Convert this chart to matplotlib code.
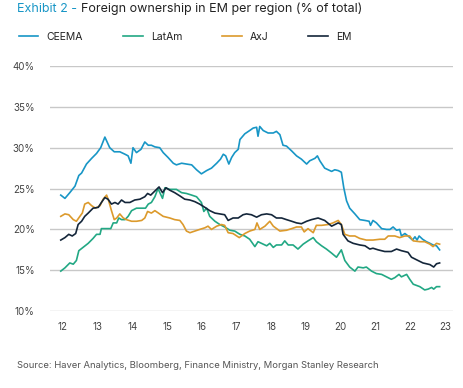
import matplotlib.pyplot as plt

# data (year = 2000 + x)
ceema_t = [11.94, 12.06, 12.20, 12.35, 12.46, 12.54, 12.68, 12.83, 12.97, 13.09,
           13.21, 13.35, 13.48, 13.64, 13.79, 13.88, 13.96, 14.02, 14.12, 14.25,
           14.36, 14.46, 14.55, 14.65, 14.79, 14.89, 15.03, 15.18, 15.27, 15.42,
           15.56, 15.71, 15.85, 15.99, 16.14, 16.28, 16.43, 16.54, 16.62, 16.69,
           16.78, 16.86, 16.95, 17.05, 17.10, 17.24, 17.38, 17.48, 17.58, 17.62,
           17.67, 17.77, 17.91, 18.06, 18.15, 18.25, 18.34, 18.44, 18.59, 18.73,
           18.87, 19.02, 19.11, 19.26, 19.33, 19.40, 19.54, 19.64, 19.74, 19.83,
           19.93, 20.02, 20.09, 20.17, 20.26, 20.41, 20.55, 20.70, 20.82, 20.86,
           20.93, 21.03, 21.18, 21.32, 21.42, 21.51, 21.61, 21.70, 21.75, 21.85,
           21.94, 22.07, 22.14, 22.20, 22.26, 22.36, 22.47, 22.57, 22.66, 22.76,
           22.85]
ceema = [24.2, 23.8, 24.5, 25.3, 26.6, 26.9, 28.0, 28.7, 29.3, 30.0,
         31.3, 30.0, 29.5, 29.5, 29.2, 29.0, 28.1, 30.0, 29.4, 29.8,
         30.7, 30.3, 30.3, 30.1, 30.0, 29.4, 28.8, 28.1, 27.9, 28.1,
         28.0, 27.9, 27.3, 26.8, 27.2, 27.5, 28.1, 28.6, 29.2, 29.0,
         28.0, 28.8, 29.4, 29.8, 31.0, 31.7, 32.1, 32.4, 32.5, 31.4,
         32.6, 32.1, 31.8, 31.8, 32.0, 31.6, 30.3, 30.2, 29.6, 29.0,
         28.6, 28.0, 28.4, 28.7, 29.0, 28.4, 27.5, 27.3, 27.1, 27.3,
         27.2, 27.0, 25.1, 23.5, 22.6, 21.9, 21.2, 21.1, 21.0, 20.5,
         21.1, 20.8, 20.1, 20.0, 20.0, 20.3, 19.9, 20.0, 19.2, 19.5,
         19.2, 18.7, 19.1, 18.7, 19.2, 18.8, 18.5, 18.3, 18.1, 18.0,
         17.5]

latam_t = [11.94, 12.06, 12.20, 12.30, 12.39, 12.46, 12.58, 12.73, 12.87, 12.97,
           13.07, 13.11, 13.26, 13.38, 13.45, 13.55, 13.61, 13.69, 13.79, 13.88,
           13.98, 14.12, 14.27, 14.38, 14.46, 14.55, 14.65, 14.74, 14.87, 14.94,
           15.08, 15.27, 15.42, 15.56, 15.71, 15.85, 15.99, 16.06, 16.14, 16.23,
           16.38, 16.52, 16.66, 16.81, 16.95, 17.10, 17.24, 17.38, 17.53, 17.62,
           17.77, 17.87, 17.96, 18.06, 18.15, 18.30, 18.39, 18.49, 18.63, 18.77,
           18.92, 19.06, 19.21, 19.30, 19.45, 19.59, 19.74, 19.88, 20.02, 20.12,
           20.26, 20.41, 20.50, 20.65, 20.74, 20.89, 21.03, 21.18, 21.32, 21.46,
           21.56, 21.68, 21.75, 21.90, 21.99, 22.09, 22.28, 22.42, 22.52, 22.62,
           22.68, 22.76, 22.85]
latam = [14.9, 15.3, 15.9, 15.75, 16.2, 17.4, 17.8, 18.3, 18.9, 19.4,
         19.4, 20.1, 20.1, 20.1, 20.8, 20.8, 21.4, 21.2, 21.2, 21.6,
         22.3, 22.6, 22.6, 22.6, 23.1, 23.3, 24.0, 25.0, 23.8, 25.1,
         24.9, 24.9, 24.5, 24.4, 24.2, 24.0, 23.3, 22.2, 22.6, 21.6,
         21.0, 20.6, 20.3, 19.9, 19.8, 19.4, 19.2, 18.8, 17.9, 18.5,
         18.2, 18.0, 18.3, 17.8, 18.1, 18.1, 18.6, 18.1, 18.1, 17.6,
         18.2, 18.6, 19.0, 18.5, 18.0, 17.6, 17.1, 16.6, 17.5, 16.2,
         15.4, 14.9, 15.4, 15.3, 15.4, 14.9, 14.6, 14.5, 14.2, 13.9,
         14.1, 14.5, 14.2, 14.5, 13.9, 13.3, 13.0, 12.6, 12.7, 12.9,
         12.7, 13.0, 13.0]

axj_t = [11.94, 12.06, 12.17, 12.30, 12.39, 12.49, 12.56, 12.63, 12.73, 12.83,
         12.94, 13.07, 13.16, 13.26, 13.32, 13.40, 13.48, 13.55, 13.64, 13.74,
         13.83, 13.98, 14.12, 14.27, 14.36, 14.44, 14.55, 14.65, 14.89, 15.08,
         15.22, 15.37, 15.46, 15.56, 15.66, 15.80, 15.94, 16.09, 16.18, 16.28,
         16.43, 16.57, 16.66, 16.76, 16.90, 17.08, 17.24, 17.38, 17.53, 17.59,
         17.67, 17.82, 17.96, 18.06, 18.25, 18.44, 18.59, 18.73, 18.87, 18.95,
         19.06, 19.21, 19.30, 19.45, 19.64, 19.78, 19.93, 20.02, 20.12, 20.26,
         20.41, 20.55, 20.74, 20.93, 21.13, 21.27, 21.37, 21.56, 21.70, 21.85,
         21.99, 22.09, 22.28, 22.42, 22.57, 22.66, 22.76, 22.85]
axj = [21.6, 21.9, 21.8, 21.2, 21.0, 21.6, 22.0, 23.1, 23.3, 22.9,
       22.6, 22.9, 23.7, 24.2, 23.5, 22.3, 21.2, 21.4, 21.9, 21.4,
       21.2, 21.0, 21.0, 21.1, 21.4, 22.2, 22.0, 22.3, 21.6, 21.4,
       21.2, 21.1, 20.6, 19.8, 19.6, 19.8, 20.0, 20.2, 20.4, 20.0,
       20.4, 20.6, 20.5, 19.6, 19.5, 19.0, 19.5, 19.8, 20.0, 20.8,
       20.0, 20.4, 21.0, 20.4, 19.8, 19.9, 20.1, 20.3, 20.3, 19.7,
       20.1, 19.6, 20.5, 20.5, 20.6, 20.8, 21.1, 20.6, 19.4, 19.2,
       19.2, 18.9, 18.7, 18.7, 18.8, 18.8, 19.2, 19.2, 19.0, 19.2,
       19.2, 18.6, 18.5, 18.5, 18.2, 17.9, 18.3, 18.2]

em_t = [11.94, 12.06, 12.17, 12.27, 12.37, 12.44, 12.54, 12.63, 12.73, 12.87,
        13.02, 13.11, 13.21, 13.30, 13.40, 13.50, 13.59, 13.69, 13.79, 13.93,
        14.07, 14.22, 14.36, 14.44, 14.53, 14.65, 14.77, 14.87, 14.97, 15.08,
        15.22, 15.37, 15.51, 15.66, 15.80, 15.94, 16.09, 16.23, 16.38, 16.52,
        16.66, 16.76, 16.90, 17.05, 17.19, 17.29, 17.43, 17.58, 17.72, 17.87,
        18.01, 18.15, 18.30, 18.44, 18.59, 18.73, 18.87, 19.02, 19.16, 19.35,
        19.54, 19.74, 19.93, 20.02, 20.07, 20.21, 20.36, 20.55, 20.70, 20.84,
        20.93, 21.08, 21.27, 21.46, 21.61, 21.75, 21.94, 22.04, 22.18, 22.37,
        22.57, 22.68, 22.76, 22.85]
em = [18.7, 19.0, 19.4, 19.2, 19.5, 20.6, 21.0, 21.6, 22.0, 22.6,
      22.7, 23.3, 23.9, 23.7, 23.1, 23.3, 23.1, 23.6, 23.3, 23.3,
      23.6, 23.7, 24.0, 24.4, 24.2, 24.7, 25.2, 24.5, 25.1, 24.8,
      24.5, 24.1, 23.7, 23.6, 23.4, 23.1, 22.7, 22.3, 22.0, 21.9,
      21.8, 21.1, 21.4, 21.4, 21.8, 21.9, 21.8, 21.5, 21.8, 21.9,
      21.8, 21.4, 21.4, 21.2, 21.0, 20.8, 20.7, 21.0, 21.2, 21.4,
      21.1, 20.4, 20.8, 20.6, 19.4, 18.6, 18.3, 18.1, 18.0, 17.6,
      17.7, 17.5, 17.3, 17.3, 17.6, 17.4, 17.2, 16.6, 16.3, 15.9,
      15.7, 15.4, 15.8, 15.9]

x_ticks = list(range(12, 24))
y_ticks = [10, 15, 20, 25, 30, 35, 40]

plt.rcParams['font.family'] = ['Inter', 'DejaVu Sans']

fig = plt.figure(figsize=(4.63, 3.88), dpi=100)
ax = fig.add_axes([0.108, 0.198, 0.870, 0.632])

# curves
ax.plot(ceema_t, ceema, color="#1896c6", linewidth=1.2, label="CEEMA")
ax.plot(latam_t, latam, color="#22a884", linewidth=1.2, label="LatAm")
ax.plot(axj_t, axj, color="#dc9a2c", linewidth=1.2, label="AxJ")
ax.plot(em_t, em, color="#14263a", linewidth=1.2, label="EM")

# axes
ax.set_xlim(11.63, 23.23)
ax.set_ylim(10, 40)
ax.set_xticks(x_ticks, [str(x) for x in x_ticks])
ax.set_yticks(y_ticks, [f"{y}%" for y in y_ticks])
ax.tick_params(length=0, labelsize=7, labelcolor="#444444")
ax.tick_params(axis='y', pad=11)
ax.tick_params(axis='x', pad=8)
for s in ax.spines.values():
    s.set_visible(False)
ax.grid(True, axis='y', color="#c8c8c8", linewidth=1.0)
ax.set_axisbelow(True)

# title: coloured prefix, then the rest right after it
t1 = fig.text(0.037, 0.978, "Exhibit 2 - ", color="#1896c6", fontsize=9,
              ha='left', va='center')
ax.annotate("Foreign ownership in EM per region (% of total)", xy=(1, 0.5),
            xycoords=t1, va='center', ha='left', color="#222222", fontsize=9)

# legend
fig.legend(loc='center left', bbox_to_anchor=(0.02, 0.905), ncol=4,
           frameon=False, fontsize=7.5, handlelength=1.9, handletextpad=0.8,
           columnspacing=3.8, labelcolor="#222222")

# source
fig.text(0.037, 0.057, "Source: Haver Analytics, Bloomberg, Finance Ministry, Morgan Stanley Research",
         color="#555555", fontsize=6.8, ha='left', va='center')

plt.savefig("out.png", dpi=100)
